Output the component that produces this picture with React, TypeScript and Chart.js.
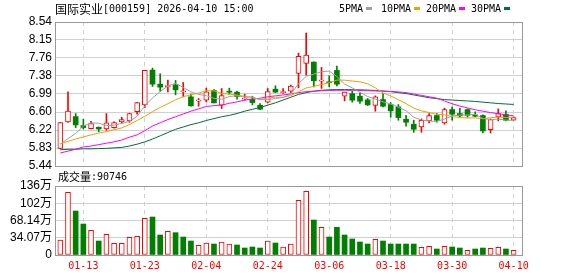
import React, { useEffect, useRef } from 'react';
import { Chart, registerables } from 'chart.js';

Chart.register(...registerables);

const TITLE_NAME = '国际实业';
const TITLE_REST = '[000159] 2026-04-10 15:00';
const VOLUME_TITLE = '成交量';
const VOLUME_LAST = ':90746';

const DATES = ['01-08','01-09','01-12','01-13','01-14','01-15','01-16','01-19','01-20','01-21','01-22','01-23','01-26','01-27','01-28','01-29','01-30','02-02','02-03','02-04','02-05','02-06','02-09','02-10','02-11','02-12','02-13','02-24','02-25','02-26','02-27','03-02','03-03','03-04','03-05','03-06','03-09','03-10','03-11','03-12','03-13','03-16','03-17','03-18','03-19','03-20','03-23','03-24','03-25','03-26','03-27','03-30','03-31','04-01','04-02','04-03','04-07','04-08','04-09','04-10'];
const AXIS_DATES = ['01-13','01-23','02-04','02-24','03-06','03-18','03-30','04-10'];

const OPEN = [5.82,6.389,6.504,6.31,6.245,6.274,6.238,6.267,6.389,6.411,6.612,6.756,7.504,7.202,7.145,7.188,7.037,6.929,6.835,6.857,7.065,6.749,7.051,7.029,6.878,6.878,6.749,6.814,7.094,7.02,7.051,7.432,7.648,7.677,7.267,7.245,7.497,6.943,6.999,6.943,6.864,6.742,6.871,6.763,6.713,6.447,6.339,6.281,6.411,6.526,6.368,6.655,6.569,6.655,6.54,6.526,6.224,6.497,6.555,6.425];
const HIGH = [6.38,7.037,6.569,6.447,6.404,6.28,6.569,6.389,6.49,6.575,6.81,7.5,7.547,7.425,7.288,7.281,7.238,6.986,6.893,7.116,7.087,7.109,7.116,7.051,6.986,6.943,6.785,7.109,7.166,7.109,7.181,7.871,8.303,7.68,7.562,7.382,7.59,7.03,7.051,7.015,6.893,6.95,6.999,6.806,6.763,6.533,6.425,6.454,6.569,6.569,6.684,6.713,6.684,6.67,6.605,6.54,6.454,6.67,6.627,6.497];
const LOW = [5.81,6.38,6.267,6.238,6.24,6.18,6.209,6.252,6.368,6.382,6.555,6.7,7.152,7.051,7.037,6.972,6.929,6.728,6.727,6.821,6.799,6.677,6.986,6.878,6.857,6.756,6.655,6.799,7.022,7.0,7.022,7.123,7.396,7.145,7.109,7.145,7.166,6.842,6.814,6.785,6.742,6.619,6.713,6.49,6.425,6.296,6.166,6.166,6.368,6.382,6.339,6.425,6.483,6.49,6.497,6.152,6.152,6.411,6.411,6.425];
const CLOSE = [6.375,6.62,6.325,6.267,6.353,6.238,6.368,6.375,6.44,6.569,6.806,7.497,7.202,7.137,7.173,7.08,7.058,6.735,6.857,7.037,6.799,6.958,7.029,6.936,6.9,6.806,6.663,7.044,7.03,7.035,7.159,7.799,7.828,7.274,7.288,7.231,7.202,7.029,6.857,6.835,6.756,6.929,6.727,6.627,6.483,6.382,6.231,6.425,6.526,6.425,6.655,6.555,6.52,6.53,6.512,6.195,6.44,6.569,6.425,6.483];

// volume in 万
const VOLUME = [29.6,123.8,86.9,61.2,48.7,27.6,40.8,23.0,23.0,34.9,36.9,72.4,75.0,39.5,46.7,44.1,35.5,27.6,19.1,23.7,21.7,25.7,21.7,19.75,13.8,15.8,13.8,27.7,23.7,15.8,21.7,108,125.8,69.1,54.6,35.5,54.6,39.5,31.6,25.7,21.7,31,27.6,21.7,21.7,21.7,21.7,15.1,17.1,11.85,17.1,15.8,13.8,9.2,11.85,13.8,13.2,15.1,11.85,9.07];

const MA5 = [5.91,6.03,6.14,6.30,6.37,6.36,6.31,6.32,6.355,6.398,6.512,6.737,6.903,7.042,7.163,7.218,7.13,7.037,6.981,6.953,6.897,6.877,6.936,6.952,6.924,6.926,6.867,6.87,6.89,6.916,6.986,7.214,7.37,7.418,7.47,7.484,7.365,7.205,7.121,7.031,6.936,6.881,6.821,6.775,6.704,6.63,6.49,6.43,6.409,6.398,6.452,6.517,6.537,6.537,6.555,6.463,6.44,6.448,6.428,6.422];
const MA10 = [5.92,5.97,6.02,6.066,6.11,6.15,6.18,6.22,6.26,6.33,6.42,6.51,6.61,6.7,6.78,6.865,6.934,6.97,7.012,7.058,7.058,7.004,6.987,6.967,6.939,6.912,6.872,6.903,6.921,6.92,6.956,7.041,7.12,7.154,7.193,7.235,7.29,7.288,7.27,7.251,7.21,7.123,7.013,6.948,6.868,6.783,6.686,6.626,6.592,6.551,6.541,6.504,6.484,6.473,6.477,6.458,6.479,6.493,6.483,6.489];
const MA20 = [5.72,5.76,5.80,5.85,5.87,5.9,5.93,5.96,6.0,6.06,6.11,6.2,6.3,6.37,6.44,6.5,6.56,6.62,6.67,6.72,6.74,6.75,6.79,6.82,6.86,6.88,6.9,6.93,6.95,6.97,6.99,7.02,7.04,7.05,7.06,7.065,7.07,7.07,7.07,7.065,7.06,7.055,7.05,7.045,7.035,7.02,6.99,6.96,6.93,6.9,6.84,6.78,6.73,6.69,6.65,6.62,6.59,6.565,6.54,6.52];
const MA30 = [5.79,5.80,5.80,5.81,5.81,5.815,5.82,5.83,5.84,5.87,5.91,5.96,6.02,6.09,6.16,6.23,6.28,6.33,6.37,6.42,6.46,6.5,6.53,6.57,6.62,6.66,6.7,6.75,6.8,6.86,6.92,6.98,7.02,7.05,7.07,7.08,7.085,7.085,7.085,7.08,7.075,7.065,7.055,7.04,7.02,7.0,6.97,6.94,6.91,6.89,6.87,6.86,6.85,6.84,6.83,6.815,6.8,6.785,6.775,6.765];

const MA_NAMES = ['5PMA', '10PMA', '20PMA', '30PMA'];
const PRICE_TICKS = [5.44, 5.8275, 6.215, 6.6025, 6.99, 7.3775, 7.765, 8.1525, 8.54];
const PRICE_TICK_LABELS = ['5.44', '5.83', '6.22', '6.60', '6.99', '7.38', '7.76', '8.15', '8.54'];
const VOL_TICKS = [0, 34.07, 68.14, 102.21, 136.28];
const VOL_TICK_LABELS = ['0', '34.07万', '68.14万', '102万', '136万'];

const RED = '#ff0000';
const GREEN = '#008000';
const MA_COLORS = ['#a0a0a0', '#f0a000', '#ff00ff', '#006f35'];
const GRID = '#d0d0d0';
const FRAME = '#999999';
const X_MIN = -0.69;
const X_MAX = 60.09;
const NUM_FONT = '"Liberation Sans", "Noto Sans CJK SC", sans-serif';
const MONO_FONT = '"DejaVu Sans Mono", monospace';
const CJK_FONT = '"Noto Sans CJK SC", sans-serif';

export default function App() {
  const priceRef = useRef<HTMLCanvasElement>(null);
  const volRef = useRef<HTMLCanvasElement>(null);

  useEffect(() => {
    const idx = DATES.map((_, i) => i);
    const candleUp = idx.map((i) => CLOSE[i] >= OPEN[i]);
    const volUp = idx.map((i) => i === 0 || CLOSE[i] >= CLOSE[i - 1]);
    const tickPositions = AXIS_DATES.map((d) => DATES.indexOf(d));
    const setXTicks = (s: any) => {
      s.ticks = tickPositions.map((v) => ({ value: v }));
    };

    const framePlugin = {
      id: 'frame',
      afterDraw(chart: any) {
        const { ctx, chartArea: a } = chart;
        ctx.save();
        ctx.strokeStyle = FRAME;
        ctx.lineWidth = 1;
        ctx.strokeRect(Math.round(a.left) + 0.5, Math.round(a.top) + 0.5, Math.round(a.right - a.left), Math.round(a.bottom - a.top));
        ctx.restore();
      },
    };

    const headerPlugin = {
      id: 'header',
      afterDraw(chart: any) {
        const ctx = chart.ctx;
        ctx.save();
        ctx.textBaseline = 'middle';
        ctx.textAlign = 'left';
        ctx.fillStyle = '#000';
        ctx.font = '12px ' + CJK_FONT;
        ctx.fillText(TITLE_NAME, 55, 9);
        const w = ctx.measureText(TITLE_NAME).width;
        ctx.font = '10px ' + MONO_FONT;
        ctx.fillText(TITLE_REST, 55 + w, 9.5);
        const starts = [339, 381, 426, 471];
        MA_NAMES.forEach((name, k) => {
          ctx.fillStyle = '#000';
          ctx.font = '10px ' + MONO_FONT;
          ctx.fillText(name, starts[k], 9.5);
          const tw = ctx.measureText(name).width;
          ctx.fillStyle = MA_COLORS[k];
          ctx.fillRect(Math.round(starts[k] + tw + 3), 7, 6, 3);
        });
        ctx.restore();
      },
    };

    const volHeaderPlugin = {
      id: 'volHeader',
      afterDraw(chart: any) {
        const ctx = chart.ctx;
        ctx.save();
        ctx.textBaseline = 'middle';
        ctx.textAlign = 'left';
        ctx.fillStyle = '#000';
        ctx.font = '11px ' + CJK_FONT;
        ctx.fillText(VOLUME_TITLE, 58, 9);
        const w = ctx.measureText(VOLUME_TITLE).width;
        ctx.font = '10px ' + MONO_FONT;
        ctx.fillText(VOLUME_LAST, 58 + w, 9.5);
        ctx.restore();
      },
    };

    const maSets = [MA5, MA10, MA20, MA30].map((arr, k) => ({
      type: 'line' as const,
      label: MA_NAMES[k],
      data: idx.map((i) => ({ x: i, y: arr[i] })),
      borderColor: MA_COLORS[k],
      borderWidth: 1,
      pointRadius: 0,
      tension: 0,
      fill: false,
      order: 0,
    }));

    const xGrid = {
      color: GRID,
      drawTicks: false,
      lineWidth: 1,
      offset: false,
    };

    const price = new Chart(priceRef.current as HTMLCanvasElement, {
      type: 'bar',
      data: {
        datasets: [
          ...maSets,
          {
            type: 'bar',
            label: 'body',
            data: idx.map((i) => ({ x: i, y: [OPEN[i], CLOSE[i]] })),
            backgroundColor: idx.map((i) => (candleUp[i] ? '#ffffff' : GREEN)),
            borderColor: idx.map((i) => (candleUp[i] ? RED : GREEN)),
            borderWidth: idx.map((i) => (candleUp[i] ? 1 : 0)),
            borderSkipped: false,
            barThickness: 5,
            minBarLength: 1,
            grouped: false,
            order: 1,
          } as any,
          {
            type: 'bar',
            label: 'wick',
            data: idx.map((i) => ({ x: i, y: [LOW[i], HIGH[i]] })),
            backgroundColor: idx.map((i) => (candleUp[i] ? RED : GREEN)),
            borderWidth: 0,
            barThickness: 1,
            minBarLength: 1,
            grouped: false,
            order: 2,
          } as any,
        ],
      },
      options: {
        responsive: false,
        animation: false,
        events: [],
        layout: { padding: { top: 22, left: 0, right: 56, bottom: 14 } },
        plugins: { legend: { display: false }, tooltip: { enabled: false }, title: { display: false } },
        scales: {
          x: {
            type: 'linear',
            offset: false,
            min: X_MIN,
            max: X_MAX,
            afterBuildTicks: setXTicks,
            ticks: { display: false },
            grid: xGrid,
            border: { display: false, dash: [4, 4] },
            afterFit: (s: any) => {
              s.height = 0;
            },
          },
          y: {
            type: 'linear',
            min: 5.44,
            max: 8.54,
            afterBuildTicks: (s: any) => {
              s.ticks = PRICE_TICKS.map((v) => ({ value: v }));
            },
            ticks: {
              autoSkip: false,
              padding: 3,
              color: '#000',
              font: { family: NUM_FONT, size: 12 },
              callback: (_v: any, i: number) => PRICE_TICK_LABELS[i],
            },
            grid: { color: GRID, drawTicks: false, lineWidth: 1 },
            border: { display: false },
            afterFit: (s: any) => {
              s.width = 55;
            },
          },
        },
      } as any,
      plugins: [framePlugin, headerPlugin],
    });

    const vol = new Chart(volRef.current as HTMLCanvasElement, {
      type: 'bar',
      data: {
        datasets: [
          {
            label: 'volume',
            data: idx.map((i) => ({ x: i, y: VOLUME[i] })),
            backgroundColor: idx.map((i) => (volUp[i] ? '#ffffff' : GREEN)),
            borderColor: idx.map((i) => (volUp[i] ? RED : GREEN)),
            borderWidth: idx.map((i) => (volUp[i] ? 1 : 0)),
            borderSkipped: false,
            barThickness: 5,
            grouped: false,
          } as any,
        ],
      },
      options: {
        responsive: false,
        animation: false,
        events: [],
        layout: { padding: { top: 18, left: 0, right: 56, bottom: 0 } },
        plugins: { legend: { display: false }, tooltip: { enabled: false } },
        scales: {
          x: {
            type: 'linear',
            offset: false,
            min: X_MIN,
            max: X_MAX,
            afterBuildTicks: setXTicks,
            ticks: {
              autoSkip: false,
              maxRotation: 0,
              padding: 5,
              color: RED,
              font: { family: MONO_FONT, size: 10 },
              callback: (v: any) => DATES[v],
            },
            grid: xGrid,
            border: { display: false, dash: [4, 4] },
            afterFit: (s: any) => {
              s.height = 21;
            },
          },
          y: {
            type: 'linear',
            min: 0,
            max: 136.28,
            afterBuildTicks: (s: any) => {
              s.ticks = VOL_TICKS.map((v) => ({ value: v }));
            },
            ticks: {
              autoSkip: false,
              padding: 3,
              color: '#000',
              font: { family: NUM_FONT, size: 12 },
              callback: (_v: any, i: number) => VOL_TICK_LABELS[i],
            },
            grid: { color: GRID, drawTicks: false, lineWidth: 1 },
            border: { display: false },
            afterFit: (s: any) => {
              s.width = 55;
            },
          },
        },
      } as any,
      plugins: [framePlugin, volHeaderPlugin],
    });

    return () => {
      price.destroy();
      vol.destroy();
    };
  }, []);

  return (
    <div style={{ position: 'fixed', left: 0, top: 0, width: 578, height: 276, background: '#fff', overflow: 'hidden' }}>
      <canvas ref={priceRef} width={578} height={180} style={{ position: 'absolute', left: 0, top: 0, display: 'block' }} />
      <canvas ref={volRef} width={578} height={108} style={{ position: 'absolute', left: 0, top: 168, display: 'block' }} />
    </div>
  );
}
